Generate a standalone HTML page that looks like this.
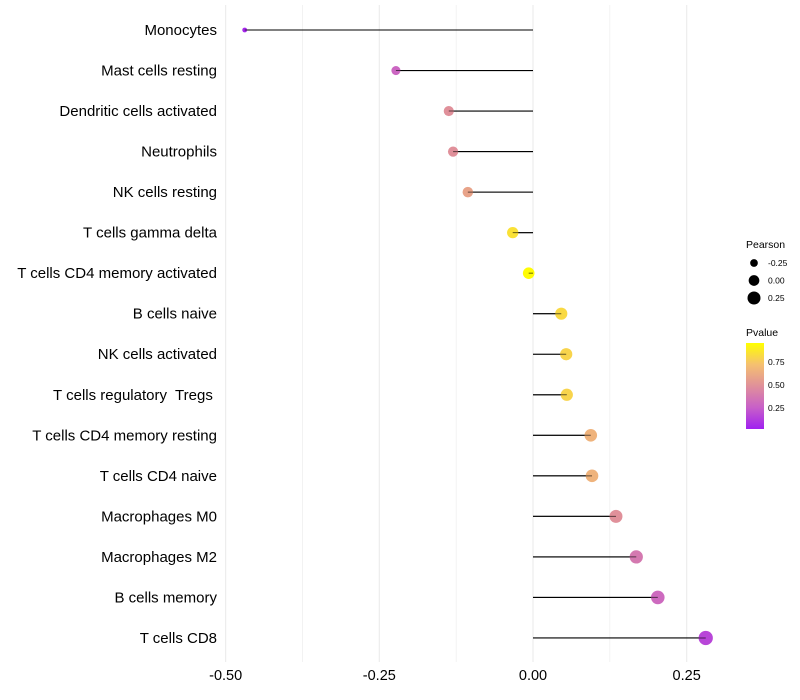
<!DOCTYPE html>
<html><head><meta charset="utf-8"><style>
html,body{margin:0;padding:0;background:#fff;}
svg{display:block;font-family:"Liberation Sans",sans-serif;}
text{white-space:pre;}
</style></head><body>
<svg id="chart" width="800" height="700"></svg>
<script>
const categories=["Monocytes","Mast cells resting","Dendritic cells activated","Neutrophils","NK cells resting","T cells gamma delta","T cells CD4 memory activated","B cells naive","NK cells activated","T cells regulatory  Tregs ","T cells CD4 memory resting","T cells CD4 naive","Macrophages M0","Macrophages M2","B cells memory","T cells CD8"];
const pearson=[-0.469,-0.223,-0.137,-0.130,-0.106,-0.033,-0.007,0.046,0.054,0.055,0.094,0.096,0.135,0.168,0.203,0.281];
const pvalues=[0.03,0.28,0.5,0.5,0.6,0.88,0.99,0.85,0.83,0.83,0.68,0.68,0.5,0.38,0.3,0.15];
const xTicks=[-0.5,-0.25,0,0.25];
const xTickLabels=["-0.50","-0.25","0.00","0.25"];
const sizeLegend=[-0.25,0,0.25];
const colorLegend=[0.75,0.5,0.25];

const NS="http://www.w3.org/2000/svg";
const svg=document.getElementById('chart');
function mk(t,a,p){const e=document.createElementNS(NS,t);for(const k in a)e.setAttribute(k,a[k]);(p||svg).appendChild(e);return e;}
const x=v=>533+(v)*614.7;
const y=i=>30+i*40.53;
const rad=v=>Math.sqrt(Math.max(1.5,34+60*v));
const stops=[[0,[160,32,240]],[0.25,[200,96,200]],[0.5,[224,144,154]],[0.75,[245,192,112]],[1,[255,255,0]]];
function col(p){for(let i=1;i<stops.length;i++){if(p<=stops[i][0]){const a=stops[i-1],b=stops[i];const t=(p-a[0])/(b[0]-a[0]);const c=a[1].map((v,k)=>Math.round(v+(b[1][k]-v)*t));return `rgb(${c})`;}}return 'rgb(255,255,0)';}

for(let v=-0.5;v<=0.2501;v+=0.125){
  const g=mk('line',{x1:x(v),x2:x(v),y1:5,y2:662,stroke:'#ebebeb','stroke-width':Math.abs((v*8)%2)<0.01?1.1:0.6});
  
  
}
xTicks.forEach((v,i)=>{
  const t=mk('text',{x:x(v),y:680,'text-anchor':'middle','font-size':14.5,fill:'#000'});
  t.textContent=xTickLabels[i];
  
  
});
categories.forEach((c,i)=>{
  const t=mk('text',{x:217,y:y(i)+5,'text-anchor':'end','font-size':15,fill:'#000'});
  t.textContent=c;
  
  
  const s=mk('line',{x1:x(0),x2:x(pearson[i]),y1:y(i),y2:y(i),stroke:'#000','stroke-width':1.1});
  
  
  const p=mk('circle',{cx:x(pearson[i]),cy:y(i),r:rad(pearson[i]),fill:col(pvalues[i])});
  
  
  const s2=mk('line',{x1:x(0),x2:x(pearson[i]),y1:y(i),y2:y(i),stroke:'#000','stroke-width':1,'stroke-opacity':0.6});
  
  
});
const lt=mk('text',{x:746,y:248,'font-size':10.5,fill:'#000'});lt.textContent='Pearson';


sizeLegend.forEach((v,i)=>{
  const cy=263+i*17.5;
  const c=mk('circle',{cx:754,cy:cy,r:rad(v)-0.5,fill:'#000'});
  
  
  const t=mk('text',{x:768,y:cy+3,'font-size':8.5,fill:'#000'});t.textContent=v.toFixed(2);
  
  
});
const ct=mk('text',{x:746,y:336,'font-size':10.5,fill:'#000'});ct.textContent='Pvalue';


const defs=mk('defs',{});
const lg=mk('linearGradient',{id:'pg',x1:0,y1:1,x2:0,y2:0},defs);
stops.forEach(s=>mk('stop',{offset:s[0],'stop-color':`rgb(${s[1]})`},lg));
const bar=mk('rect',{x:746,y:343,width:18,height:86,fill:'url(#pg)'});


colorLegend.forEach(v=>{
  const cy=339+(1-v)*92;
  const t=mk('text',{x:768,y:cy+3,'font-size':8.5,fill:'#000'});t.textContent=v.toFixed(2);
  
  
});
</script>
</body></html>
